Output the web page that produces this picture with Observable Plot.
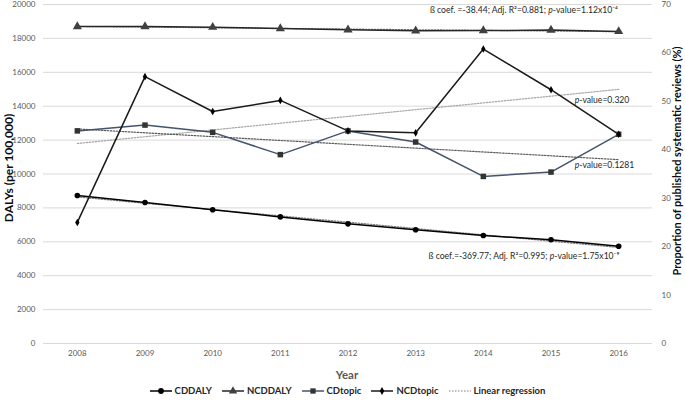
<!DOCTYPE html>
<html>
<head>
<meta charset="utf-8">
<script src="https://cdn.jsdelivr.net/npm/d3@7"></script>
<script src="https://cdn.jsdelivr.net/npm/@observablehq/plot@0.6"></script>
<style>
  html, body { margin: 0; padding: 0; background: #fff; }
  body { width: 685px; height: 401px; overflow: hidden; font-family: Lato, "Open Sans", sans-serif; }
  #legend { height: 21px; display: flex; justify-content: center; align-items: center; gap: 10px;
    padding-left: 10px; font-weight: bold; font-size: 9.5px; color: #262626; }
  #legend .item { display: flex; align-items: center; gap: 3px; }
</style>
</head>
<body>
<div id="chart"></div>
<div id="legend"></div>
<script>
// ---- data ----
const years = [2008, 2009, 2010, 2011, 2012, 2013, 2014, 2015, 2016];
const cdDaly = [8730, 8320, 7890, 7470, 7060, 6710, 6370, 6120, 5740];
const ncdDaly = [18700, 18700, 18660, 18580, 18510, 18450, 18460, 18490, 18410];
const cdTopic = [43.9, 45.1, 43.6, 39.0, 43.9, 41.6, 34.5, 35.4, 43.2];   // % (right axis)
const ncdTopic = [25.0, 55.1, 47.9, 50.2, 43.9, 43.5, 60.8, 52.4, 43.2];  // % (right axis)
const leftTicks = [0, 2000, 4000, 6000, 8000, 10000, 12000, 14000, 16000, 18000, 20000];
const rightTicks = [0, 10, 20, 30, 40, 50, 60, 70];
const seriesNames = ["CDDALY", "NCDDALY", "CDtopic", "NCDtopic", "Linear regression"];
const annotations = [
  {x: 2014.6, y: 19650, text: "ß coef. =-38.44; Adj. R²=0.881; p-value=1.12x10⁻⁴", anchor: "middle"},
  {x: 2014.6, y: 5150, text: "ß coef.=-369.77; Adj. R²=0.995; p-value=1.75x10⁻⁹", anchor: "middle"},
  {x: 2015.35, y: 14330, text: "p-value=0.320", anchor: "start"},
  {x: 2015.35, y: 10500, text: "p-value=0.1281", anchor: "start"}
];

// right axis mapped onto left scale
const LEFT_MAX = 20000, RIGHT_MAX = 70, k = LEFT_MAX / RIGHT_MAX;
const rows = (vals, scale = 1) => years.map((yr, i) => ({year: yr, v: vals[i] * scale}));
const dCD = rows(cdDaly), dNCD = rows(ncdDaly), dCDt = rows(cdTopic, k), dNCDt = rows(ncdTopic, k);

const tickColor = "#595959";
const chart = Plot.plot({
  width: 685, height: 380,
  marginTop: 4, marginBottom: 37, marginLeft: 43, marginRight: 33,
  style: {fontFamily: "Lato, 'Open Sans', sans-serif", color: tickColor, background: "white"},
  x: {domain: [2007.5, 2016.5]},
  y: {domain: [0, LEFT_MAX]},
  marks: [
    Plot.gridY(leftTicks, {stroke: "#d9d9d9", strokeOpacity: 1, strokeWidth: 1}),
    Plot.axisY({ticks: leftTicks, tickFormat: d => String(d), tickSize: 0, tickPadding: 8, fontSize: 8, label: null}),
    Plot.axisY({anchor: "right", ticks: rightTicks.map(v => v * k), tickFormat: d => String(Math.round(d / k)),
      tickSize: 0, tickPadding: 9, fontSize: 8, label: null}),
    Plot.axisX({ticks: years, tickFormat: d => String(d), tickSize: 0, tickPadding: 7, fontSize: 8, label: null}),
    // regression lines
    Plot.linearRegressionY(dNCDt, {x: "year", y: "v", ci: 0, stroke: "#a6a6a6", strokeWidth: 1.2, strokeDasharray: "1.5,1.5"}),
    Plot.linearRegressionY(dCDt, {x: "year", y: "v", ci: 0, stroke: "#595959", strokeWidth: 1.2, strokeDasharray: "1.5,1.5"}),
    Plot.linearRegressionY(dNCD, {x: "year", y: "v", ci: 0, stroke: "#7f7f7f", strokeWidth: 1.2, strokeDasharray: "1.5,1.5"}),
    Plot.linearRegressionY(dCD, {x: "year", y: "v", ci: 0, stroke: "#7f7f7f", strokeWidth: 1.2, strokeDasharray: "1.5,1.5"}),
    // series lines
    Plot.line(dNCD, {x: "year", y: "v", stroke: "#262626", strokeWidth: 1.5}),
    Plot.line(dCD, {x: "year", y: "v", stroke: "#000", strokeWidth: 1.5}),
    Plot.line(dCDt, {x: "year", y: "v", stroke: "#44546a", strokeWidth: 1.5}),
    Plot.line(dNCDt, {x: "year", y: "v", stroke: "#1a1a1a", strokeWidth: 1.5}),
    // markers
    Plot.dot(dNCD, {x: "year", y: "v", symbol: "triangle", r: 3.4, fill: "#404040", stroke: "none"}),
    Plot.dot(dCD, {x: "year", y: "v", symbol: "circle", r: 2.8, fill: "#000", stroke: "none"}),
    Plot.dot(dCDt, {x: "year", y: "v", symbol: "square", r: 3.1, fill: "#333", stroke: "none"}),
    Plot.dot(dNCDt, {x: "year", y: "v", symbol: "diamond", r: 2.3, fill: "#000", stroke: "none"}),
    // annotations
    Plot.text(annotations.filter(a => a.anchor === "middle"), {x: "x", y: "y", text: "text", textAnchor: "middle", fontSize: 8.6, fill: "#262626"}),
    Plot.text(annotations.filter(a => a.anchor === "start"), {x: "x", y: "y", text: "text", textAnchor: "start", fontSize: 8.6, fill: "#262626"})
  ]
});
document.getElementById("chart").appendChild(chart);

// italic "p" in p-value labels
d3.select(chart).selectAll("text").each(function () {
  const t = this.textContent;
  const i = t.indexOf("p-value");
  if (i < 0 || this.children.length) return;
  const sel = d3.select(this).text(null);
  if (i > 0) sel.append("tspan").text(t.slice(0, i));
  sel.append("tspan").attr("font-style", "italic").text("p");
  sel.append("tspan").text(t.slice(i + 1));
});

// axis titles
const svg = d3.select(chart);
svg.append("text").attr("transform", "translate(13,168) rotate(-90)").attr("text-anchor", "middle")
  .attr("font-weight", "bold").attr("font-size", 12).attr("fill", "#0d0d0d").text("DALYs (per 100,000)");
svg.append("text").attr("transform", "translate(681,161) rotate(-90)").attr("text-anchor", "middle")
  .attr("font-weight", "bold").attr("font-size", 11).attr("fill", "#0d0d0d").text("Proportion of published systematic reviews (%)");
svg.append("text").attr("x", 347).attr("y", 379).attr("text-anchor", "middle")
  .attr("font-weight", "bold").attr("font-size", 11.5).attr("fill", "#595959").text("Year");

// legend
const legendStyles = [
  {stroke: "#000", sym: d3.symbolCircle, size: 26, fill: "#000"},
  {stroke: "#262626", sym: d3.symbolTriangle, size: 30, fill: "#404040"},
  {stroke: "#44546a", sym: d3.symbolSquare, size: 28, fill: "#333"},
  {stroke: "#1a1a1a", sym: d3.symbolDiamond, size: 18, fill: "#000"},
  {stroke: "#7f7f7f", dash: "1.5,1.5", sym: null}
];
const legend = d3.select("#legend");
seriesNames.forEach((name, i) => {
  const st = legendStyles[i];
  const item = legend.append("div").attr("class", "item");
  const s = item.append("svg").attr("width", 22).attr("height", 10);
  s.append("line").attr("x1", 0).attr("x2", 22).attr("y1", 5).attr("y2", 5)
    .attr("stroke", st.stroke).attr("stroke-width", st.dash ? 1.2 : 1.5).attr("stroke-dasharray", st.dash || null);
  if (st.sym) s.append("path").attr("transform", "translate(11,5)").attr("d", d3.symbol(st.sym, st.size)()).attr("fill", st.fill);
  item.append("span").text(name);
});
</script>
</body>
</html>
